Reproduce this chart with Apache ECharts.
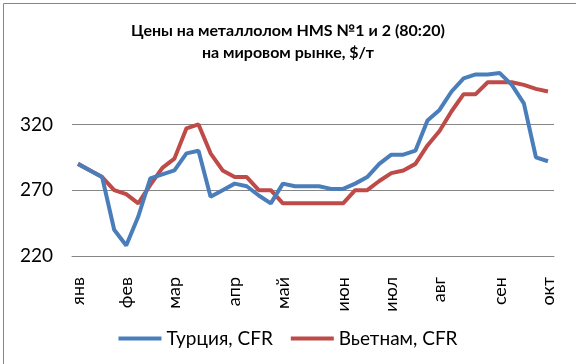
<!DOCTYPE html>
<html>
<head>
<meta charset="utf-8">
<script src="https://cdn.jsdelivr.net/npm/echarts@6/dist/echarts.min.js"></script>
<style>
html,body{margin:0;padding:0;background:#fff;}
#chart{width:576px;height:364px;}
</style>
</head>
<body>
<div id="chart"></div>
<script>
// Weekly observations (index 0..39), month label shown at the first week of each month
const weeks = Array.from({length: 40}, (_, i) => 'w' + (i + 1));
const monthLabels = ['янв', 'фев', 'мар', 'апр', 'май', 'июн', 'июл', 'авг', 'сен', 'окт'];
const monthStartWeek = [0, 4, 8, 13, 17, 22, 26, 30, 35, 39];

const turkey = [290, 285, 280, 240, 228, 250, 279, 282, 285, 298,
                300, 265, 270, 275, 273, 266, 260, 275, 273, 273,
                273, 271, 271, 275, 280, 290, 297, 297, 300, 323,
                331, 345, 355, 358, 358, 359, 350, 336, 295, 292];
const vietnam = [290, 285, 280, 270, 267, 260, 274, 287, 294, 317,
                 320, 298, 285, 280, 280, 270, 270, 260, 260, 260,
                 260, 260, 260, 270, 270, 277, 283, 285, 290, 304,
                 315, 330, 343, 343, 352, 352, 352, 350, 347, 345];

const yTicks = [220, 270, 320];
const titleLines = ['Цены на металлолом HMS №1 и 2 (80:20)', 'на мировом рынке, $/т'];
const seriesNames = ['Турция, CFR', 'Вьетнам, CFR'];

const FONT = 'Lato';
const chart = echarts.init(document.getElementById('chart'));
chart.setOption({
  animation: false,
  backgroundColor: '#fff',
  textStyle: {fontFamily: FONT},
  graphic: [{
    type: 'rect', left: 1, top: 1,
    shape: {x: 0, y: 0, width: 573, height: 361},
    style: {fill: 'none', stroke: '#868686', lineWidth: 1}
  }],
  title: {
    text: titleLines.join('\n'),
    left: 'center', top: 15,
    textStyle: {fontFamily: FONT, fontSize: 16, fontWeight: 'bold', color: '#000', lineHeight: 22}
  },
  legend: {
    bottom: 11, left: 'center',
    icon: 'rect', itemWidth: 43, itemHeight: 4, itemGap: 18,
    textStyle: {fontFamily: FONT, fontSize: 19, color: '#000'},
    data: seriesNames
  },
  grid: {left: 72, right: 22, top: 58.6, bottom: 108, containLabel: false},
  xAxis: {
    type: 'category', data: weeks, boundaryGap: true,
    axisLine: {show: true, lineStyle: {color: '#868686', width: 1}},
    axisTick: {show: false},
    axisLabel: {
      rotate: 90, margin: 21, fontFamily: FONT, fontSize: 18, color: '#000',
      interval: (idx) => monthStartWeek.indexOf(idx) >= 0,
      formatter: (v, idx) => {
        const k = monthStartWeek.indexOf(idx);
        return k >= 0 ? monthLabels[k] : '';
      }
    },
    splitLine: {show: false}
  },
  yAxis: {
    type: 'value', min: 220, max: 370, interval: 50,
    axisLine: {show: false}, axisTick: {show: false},
    axisLabel: {
      margin: 19, fontFamily: FONT, fontSize: 19, color: '#000',
      showMaxLabel: false,
      formatter: (v) => yTicks.indexOf(v) >= 0 ? String(v) : ''
    },
    splitLine: {show: true, showMinLine: true, showMaxLine: false, lineStyle: {color: '#868686', width: 1}}
  },
  series: [
    {name: seriesNames[0], type: 'line', data: turkey, symbol: 'none', smooth: false,
     lineStyle: {color: '#4A7EBB', width: 4}, itemStyle: {color: '#4A7EBB'}, z: 3},
    {name: seriesNames[1], type: 'line', data: vietnam, symbol: 'none', smooth: false,
     lineStyle: {color: '#BE4B48', width: 4}, itemStyle: {color: '#BE4B48'}, z: 2}
  ]
});
</script>
</body>
</html>
